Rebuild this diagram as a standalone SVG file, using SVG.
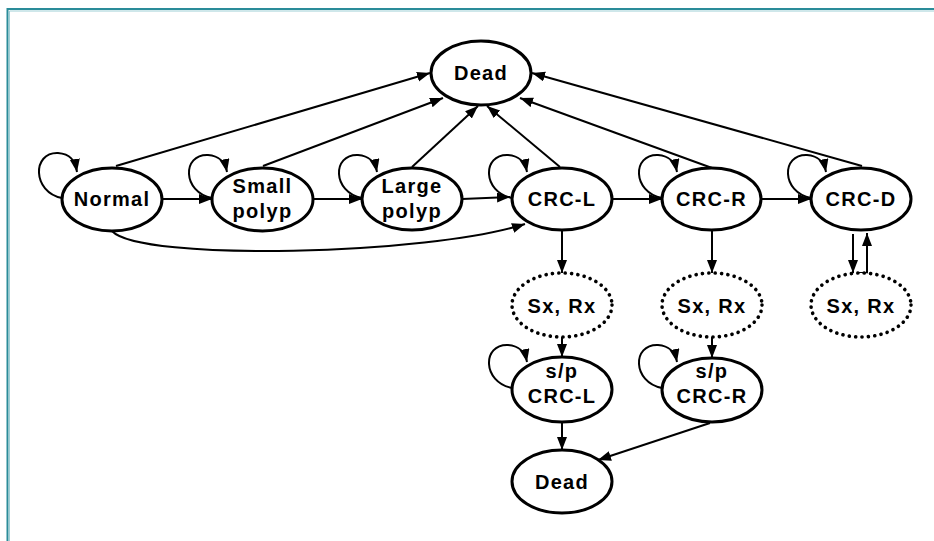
<svg xmlns="http://www.w3.org/2000/svg" width="934" height="541" viewBox="0 0 934 541">
<style>
.node ellipse{fill:#fff;stroke:#000;stroke-width:3}
.node ellipse.dot{stroke-dasharray:0.1 6.3;stroke-linecap:round;stroke-width:3.6}
.node text{font-family:"Liberation Sans",Arial,sans-serif;font-weight:bold;font-size:20px;letter-spacing:1.3px;text-anchor:middle;fill:#000}
.edges path{fill:none;stroke:#000;stroke-width:2;marker-end:url(#ah)}
.edges path.plain{marker-end:none}
</style>
<defs>
<marker id="ah" markerUnits="userSpaceOnUse" markerWidth="14" markerHeight="11" refX="13" refY="5" orient="auto">
<path d="M0,0 L13,5 L0,10 z" fill="#000"/>
</marker>
</defs>
<rect x="0" y="0" width="934" height="541" fill="#fff"/>
<path d="M7.5,541 V9 H934" fill="none" stroke="#2a8c99" stroke-width="2"/>
<path d="M9.5,541 V11 H934" fill="none" stroke="#9fd0d6" stroke-width="1"/>

<g class="edges">
<path d="M116,166 L430,73"/>
<path d="M263,166 L443,98"/>
<path d="M412,167 L478,106"/>
<path d="M560,167 L487,106"/>
<path d="M712,168 L520,98"/>
<path d="M862,166 L532,73"/>
<path d="M162,199 L212,199"/>
<path d="M313,199 L362,199"/>
<path d="M462,199 L510,197"/>
<path d="M612,199 L662,199"/>
<path d="M761,199 L811,199"/>
<path d="M112,231 C140,262 430,255 525,224"/>
<path d="M62,198 C32,192 32,152 58,153 C70,154 75,160 77,172"/>
<path d="M212,198 C182,192 182,154 208,155 C220,156 225,162 227,172"/>
<path d="M362,198 C332,192 332,154 358,155 C370,156 375,162 377,172"/>
<path d="M512,198 C482,192 482,154 508,155 C520,156 525,162 527,172"/>
<path d="M662,198 C632,192 632,154 658,155 C670,156 675,162 677,172"/>
<path d="M811,198 C781,192 781,154 807,155 C819,156 824,162 826,172"/>
<path d="M512,388 C482,382 482,344 508,345 C520,346 525,352 527,362"/>
<path d="M662,388 C632,382 632,344 658,345 C670,346 675,352 677,362"/>
<path d="M562,230 L562,273"/>
<path d="M562,337 L562,357"/>
<path d="M562,422 L562,450"/>
<path d="M712,230 L712,273"/>
<path d="M712,337 L712,358"/>
<path d="M710,423 L598,460"/>
<path d="M853,234 L853,273"/>
<path d="M857,273 L867,273 L867,233"/>
</g>

<g id="dead-top" class="node"><ellipse cx="481" cy="73" rx="50" ry="32"/><text x="481" y="80">Dead</text></g>
<g id="normal" class="node"><ellipse cx="112" cy="199.5" rx="50" ry="31.5"/><text x="112" y="206">Normal</text></g>
<g id="small-polyp" class="node"><ellipse cx="262.5" cy="199.5" rx="50.5" ry="31.5"/><text x="262.5" y="193">Small</text><text x="262.5" y="218">polyp</text></g>
<g id="large-polyp" class="node"><ellipse cx="412" cy="199" rx="50" ry="31"/><text x="412" y="193">Large</text><text x="412" y="218">polyp</text></g>
<g id="crc-l" class="node"><ellipse cx="562" cy="199" rx="50" ry="31"/><text x="562" y="206">CRC-L</text></g>
<g id="crc-r" class="node"><ellipse cx="711.5" cy="199" rx="49.5" ry="31"/><text x="711.5" y="206">CRC-R</text></g>
<g id="crc-d" class="node"><ellipse cx="861" cy="199" rx="50" ry="31"/><text x="861" y="206">CRC-D</text></g>
<g id="sxrx-l" class="node"><ellipse class="dot" cx="562" cy="305" rx="50" ry="32"/><text x="562" y="313">Sx, Rx</text></g>
<g id="sxrx-r" class="node"><ellipse class="dot" cx="712" cy="305" rx="50" ry="32"/><text x="712" y="313">Sx, Rx</text></g>
<g id="sxrx-d" class="node"><ellipse class="dot" cx="861" cy="305" rx="50" ry="32"/><text x="861" y="313">Sx, Rx</text></g>
<g id="sp-crc-l" class="node"><ellipse cx="562" cy="389.5" rx="50" ry="32.5"/><text x="562" y="378">s/p</text><text x="562" y="403">CRC-L</text></g>
<g id="sp-crc-r" class="node"><ellipse cx="712" cy="390" rx="50" ry="32"/><text x="712" y="378">s/p</text><text x="712" y="403">CRC-R</text></g>
<g id="dead-bottom" class="node"><ellipse cx="562" cy="481.5" rx="50" ry="31.5"/><text x="562" y="489">Dead</text></g>
</svg>
